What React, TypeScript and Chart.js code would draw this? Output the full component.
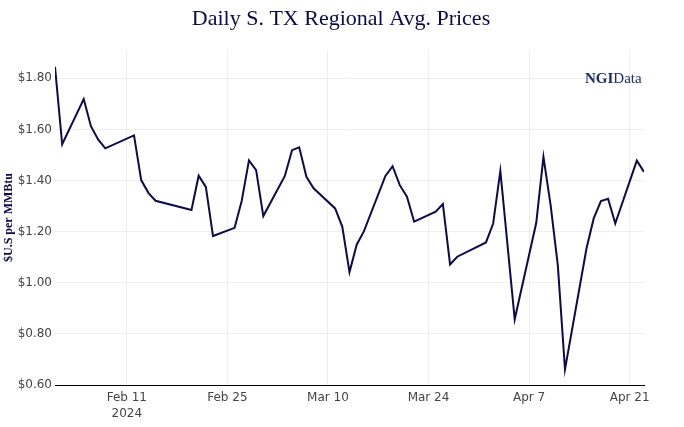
import React, { useEffect, useRef } from "react";
import { Chart, registerables } from "chart.js";

Chart.register(...registerables);

const dates = [
  "2024-02-01", "2024-02-02", "2024-02-05", "2024-02-06", "2024-02-07", "2024-02-08",
  "2024-02-12", "2024-02-13", "2024-02-14", "2024-02-15", "2024-02-20", "2024-02-21",
  "2024-02-22", "2024-02-23", "2024-02-26", "2024-02-27", "2024-02-28", "2024-02-29",
  "2024-03-01", "2024-03-04", "2024-03-05", "2024-03-06", "2024-03-07", "2024-03-08",
  "2024-03-11", "2024-03-12", "2024-03-13", "2024-03-14", "2024-03-15", "2024-03-18",
  "2024-03-19", "2024-03-20", "2024-03-21", "2024-03-22", "2024-03-25", "2024-03-26",
  "2024-03-27", "2024-03-28", "2024-04-01", "2024-04-02", "2024-04-03", "2024-04-05",
  "2024-04-08", "2024-04-09", "2024-04-10", "2024-04-11", "2024-04-12", "2024-04-15",
  "2024-04-16", "2024-04-17", "2024-04-18", "2024-04-19", "2024-04-22", "2024-04-23",
];

const prices = [
  1.845, 1.542, 1.719, 1.613, 1.561, 1.526,
  1.577, 1.402, 1.352, 1.321, 1.285, 1.419,
  1.375, 1.183, 1.215, 1.321, 1.479, 1.441,
  1.261, 1.418, 1.519, 1.530, 1.415, 1.370,
  1.291, 1.219, 1.042, 1.149, 1.201, 1.418,
  1.456, 1.382, 1.337, 1.239, 1.278, 1.308,
  1.072, 1.102, 1.158, 1.232, 1.438, 0.857,
  1.235, 1.493, 1.304, 1.069, 0.661, 1.135,
  1.252, 1.320, 1.329, 1.232, 1.478, 1.434,
];

const xTickDates = ["2024-02-11", "2024-02-25", "2024-03-10", "2024-03-24", "2024-04-07", "2024-04-21"];
const yTickValues = [0.6, 0.8, 1.0, 1.2, 1.4, 1.6, 1.8];
const xRange = ["2024-02-01", "2024-04-23"];
const yRange = [0.6, 1.911];

const TITLE = "Daily S. TX Regional Avg. Prices";
const MONTHS = ["Jan", "Feb", "Mar", "Apr", "May", "Jun", "Jul", "Aug", "Sep", "Oct", "Nov", "Dec"];

const dayNum = (s: string) =>
  Date.UTC(+s.slice(0, 4), +s.slice(5, 7) - 1, +s.slice(8, 10)) / 86400000;

const fmtDate = (v: number) => {
  const d = new Date(v * 86400000);
  return `${MONTHS[d.getUTCMonth()]} ${d.getUTCDate()}`;
};

const NAVY = "#0b0b4d";
const SERIF = "'Liberation Serif', 'Times New Roman', serif";
const TICK_FONT = { family: "'DejaVu Sans', Verdana, sans-serif", size: 12, lineHeight: 1.35 };

const decorPlugin = {
  id: "decor",
  afterDraw(chart: any) {
    const ctx = chart.ctx;
    ctx.save();
    // title
    ctx.fillStyle = NAVY;
    ctx.textAlign = "center";
    ctx.textBaseline = "alphabetic";
    ctx.font = `22px ${SERIF}`;
    ctx.fillText(TITLE, 341, 25);
    // NGIData logo
    ctx.fillStyle = "#1b2e6b";
    ctx.textAlign = "left";
    ctx.font = `bold 15px ${SERIF}`;
    const x0 = 585;
    const y0 = 83;
    ctx.fillText("NGI", x0, y0);
    const w = ctx.measureText("NGI").width;
    ctx.font = `15px ${SERIF}`;
    ctx.fillText("Data", x0 + w, y0);
    ctx.restore();
  },
};

export default function App() {
  const ref = useRef<HTMLCanvasElement | null>(null);

  useEffect(() => {
    document.body.style.margin = "0";
    const canvas = ref.current;
    if (!canvas) return;
    const points = dates.map((d, i) => ({ x: dayNum(d), y: prices[i] }));
    const firstTick = dayNum(xTickDates[0]);

    const chart = new Chart(canvas, {
      type: "line",
      data: {
        datasets: [
          {
            label: "S. TX Regional Avg.",
            data: points,
            borderColor: NAVY,
            backgroundColor: NAVY,
            borderWidth: 2,
            pointRadius: 0,
            tension: 0,
            fill: false,
          },
        ],
      },
      options: {
        responsive: false,
        animation: false,
        layout: { padding: { left: 0, right: 40, top: 50, bottom: 0 } },
        plugins: {
          legend: { display: false },
          tooltip: { enabled: false },
          title: { display: false },
        },
        scales: {
          x: {
            type: "linear",
            min: dayNum(xRange[0]),
            max: dayNum(xRange[1]),
            afterBuildTicks: (s: any) => {
              s.ticks = xTickDates.map((d) => ({ value: dayNum(d) }));
            },
            afterFit: (s: any) => {
              s.height = 42;
            },
            ticks: {
              color: "#444",
              font: TICK_FONT,
              padding: 5,
              maxRotation: 0,
              autoSkip: false,
              callback: (v: any) => {
                const label = fmtDate(Number(v));
                return Number(v) === firstTick ? [label, "2024"] : label;
              },
            },
            grid: { color: "#eeeeee", drawTicks: false, lineWidth: 1 },
            border: { display: true, color: "#000", width: 1 },
          },
          y: {
            type: "linear",
            min: yRange[0],
            max: yRange[1],
            afterBuildTicks: (s: any) => {
              s.ticks = yTickValues.map((v) => ({ value: v }));
            },
            afterFit: (s: any) => {
              s.width = 55;
            },
            ticks: {
              color: "#444",
              font: TICK_FONT,
              padding: 3,
              callback: (v: any) => "$" + Number(v).toFixed(2),
            },
            grid: { color: "#eeeeee", drawTicks: false, lineWidth: 1 },
            border: { display: false },
            title: {
              display: true,
              text: "$U.S per MMBtu",
              color: NAVY,
              font: { family: SERIF, size: 12, weight: "bold", lineHeight: 1.2 },
              padding: { top: 2, bottom: 0 },
            },
          },
        },
      },
      plugins: [decorPlugin],
    } as any);

    return () => chart.destroy();
  }, []);

  return (
    <div style={{ width: 684, height: 427, background: "#fff" }}>
      <canvas ref={ref} width={684} height={427} style={{ display: "block" }} />
    </div>
  );
}
